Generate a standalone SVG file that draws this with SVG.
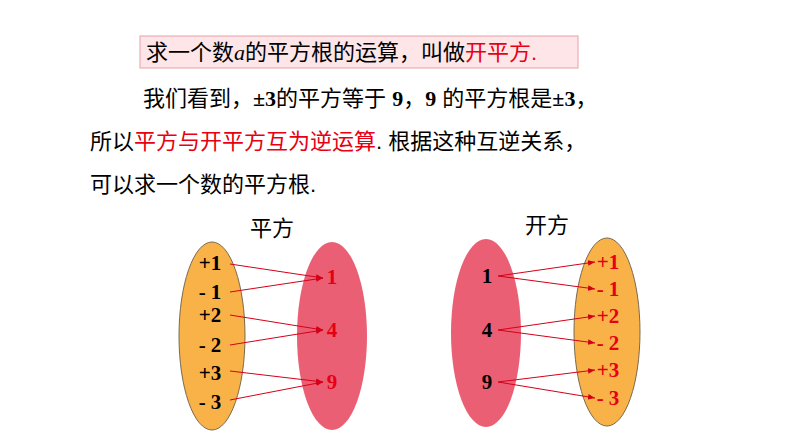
<svg xmlns="http://www.w3.org/2000/svg" width="794" height="447" viewBox="0 0 794 447">
<style>
.t{font-family:"Liberation Sans","Noto Sans CJK SC",sans-serif;font-size:22px;fill:#000}
.r{fill:#e60012}
.n{font-family:"Liberation Serif","Noto Sans CJK SC",serif;font-weight:bold;font-size:21px;text-anchor:middle}
.o{fill:#f9b248;stroke:#7a6a50;stroke-width:1}
.p{fill:#eb5f74}
.c line{stroke:#d40018;stroke-width:1;marker-end:url(#a)}
</style>
<defs><marker id="a" viewBox="0 0 10 10" refX="10" refY="5" markerWidth="7" markerHeight="7" orient="auto" markerUnits="userSpaceOnUse"><path d="M0,1 L10,5 L0,9 z" fill="#d40018"/></marker></defs>
<rect x="140" y="36" width="438" height="32" fill="#fde5e8" stroke="#e8a0a8"/>
<text class="t" x="146" y="60">求一个数<tspan font-family="Liberation Serif" font-style="italic">a</tspan>的平方根的运算，叫做<tspan class="r">开平方.</tspan></text>
<text class="t" x="143" y="106">我们看到，<tspan font-family="Liberation Serif" font-weight="bold">±3</tspan>的平方等于 <tspan font-family="Liberation Serif" font-weight="bold">9</tspan>，<tspan font-family="Liberation Serif" font-weight="bold">9</tspan> 的平方根是<tspan font-family="Liberation Serif" font-weight="bold">±3</tspan>，</text>
<text class="t" x="90" y="149">所以<tspan class="r">平方与开平方互为逆运算</tspan>. 根据这种互逆关系，</text>
<text class="t" x="90" y="192">可以求一个数的平方根.</text>
<text class="t" x="250" y="236">平方</text>
<text class="t" x="525" y="233">开方</text>
<g id="left-set"><ellipse class="o" cx="212" cy="336" rx="33" ry="94"/>
<g class="n"><text x="210" y="270">+1</text><text x="210" y="299">- 1</text><text x="210" y="322">+2</text><text x="210" y="352">- 2</text><text x="210" y="380">+3</text><text x="210" y="409">- 3</text></g></g>
<g id="squares"><ellipse class="p" cx="332" cy="336" rx="35" ry="94"/>
<g class="n" fill="#e60012"><text x="332" y="284">1</text><text x="332" y="337">4</text><text x="332" y="389">9</text></g></g>
<g id="roots-src"><ellipse class="p" cx="486" cy="333" rx="35" ry="94"/>
<g class="n"><text x="487" y="283">1</text><text x="487" y="337">4</text><text x="487" y="389">9</text></g></g>
<g id="right-set"><ellipse class="o" cx="607" cy="332" rx="33" ry="94"/>
<g class="n" fill="#e60012"><text x="608" y="269">+1</text><text x="608" y="296">- 1</text><text x="608" y="323">+2</text><text x="608" y="350">- 2</text><text x="608" y="377">+3</text><text x="608" y="405">- 3</text></g></g>
<g class="c">
<line x1="230" y1="264" x2="323" y2="278"/><line x1="230" y1="292" x2="323" y2="278"/>
<line x1="230" y1="315" x2="323" y2="330"/><line x1="230" y1="345" x2="323" y2="330"/>
<line x1="230" y1="371" x2="323" y2="382"/><line x1="230" y1="400" x2="323" y2="382"/>
<line x1="498" y1="276" x2="595" y2="262"/><line x1="498" y1="276" x2="595" y2="289"/>
<line x1="498" y1="330" x2="595" y2="316"/><line x1="498" y1="330" x2="595" y2="343"/>
<line x1="498" y1="382" x2="595" y2="370"/><line x1="498" y1="382" x2="595" y2="398"/>
</g>
</svg>
